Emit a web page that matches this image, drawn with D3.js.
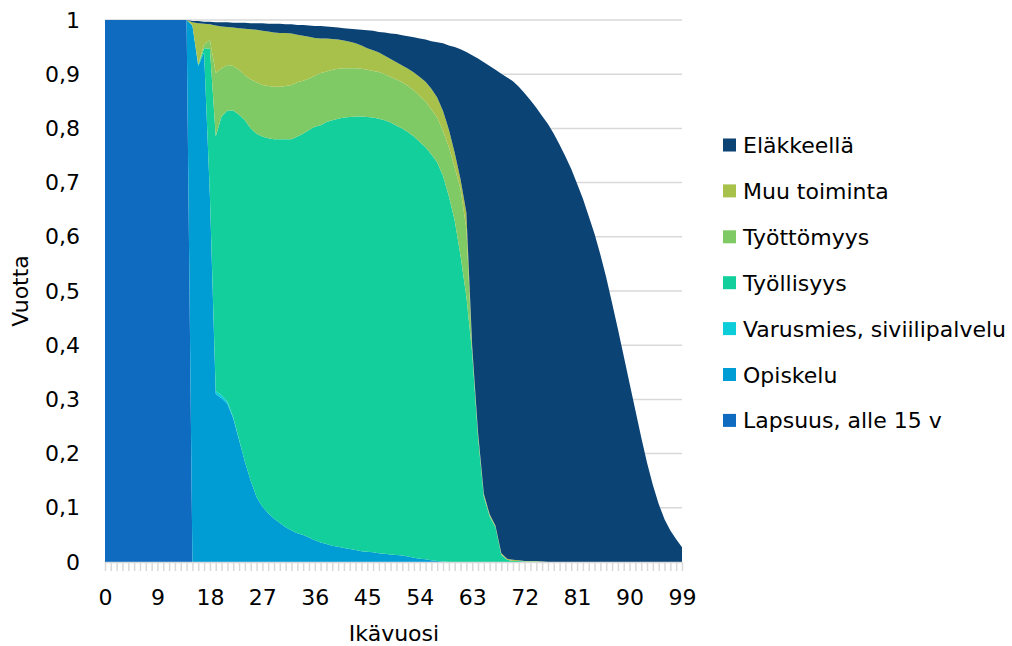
<!DOCTYPE html>
<html>
<head>
<meta charset="utf-8">
<script src="https://cdn.jsdelivr.net/npm/d3@7"></script>
<style>
  body { margin: 0; background: #fff; }
  text { font-family: "DejaVu Sans", sans-serif; fill: #000; }
</style>
</head>
<body>
<div id="container"></div>
<script>
// ages 0..99 (categories)
let ages = [0,1,2,3,4,5,6,7,8,9,10,11,12,13,14,15,16,17,18,19,20,21,22,23,24,25,26,27,28,29,
  30,31,32,33,34,35,36,37,38,39,40,41,42,43,44,45,46,47,48,49,50,51,52,53,54,55,56,57,58,59,
  60,61,62,63,64,65,66,67,68,69,70,71,72,73,74,75,76,77,78,79,80,81,82,83,84,85,86,87,88,89,
  90,91,92,93,94,95,96,97,98,99];

let xTickLabels = [0, 9, 18, 27, 36, 45, 54, 63, 72, 81, 90, 99];
let yTicks = [0, 0.1, 0.2, 0.3, 0.4, 0.5, 0.6, 0.7, 0.8, 0.9, 1];

// series, bottom first (share of a year)
let lapsuus = [1,1,1,1,1,1,1,1,1,1,1,1,1,1,1,0,0,0,0,0,0,0,0,0,0,0,0,0,0,0,
  0,0,0,0,0,0,0,0,0,0,0,0,0,0,0,0,0,0,0,0,0,0,0,0,0,0,0,0,0,0,
  0,0,0,0,0,0,0,0,0,0,0,0,0,0,0,0,0,0,0,0,0,0,0,0,0,0,0,0,0,0,
  0,0,0,0,0,0,0,0,0,0];

let opiskelu = [0,0,0,0,0,0,0,0,0,0,0,0,0,0,0,
  0.990,0.915,0.940,0.675,0.310,0.302,0.292,0.265,0.225,0.185,0.150,0.120,0.102,0.090,0.080,
  0.072,0.064,0.058,0.053,0.050,0.045,0.040,0.036,0.033,0.030,0.028,0.026,0.024,0.022,0.020,
  0.019,0.018,0.016,0.015,0.014,0.013,0.012,0.010,0.008,0.006,0.005,0.003,0.002,0.001,0,
  0,0,0,0,0,0,0,0,0,0,0,0,0,0,0,0,0,0,0,0,0,0,0,0,0,0,0,0,0,0,
  0,0,0,0,0,0,0,0,0,0];

let varusmies = [0,0,0,0,0,0,0,0,0,0,0,0,0,0,0,0,0,0,
  0.001,0.005,0.006,0.004,0.002,0.001,
  0,0,0,0,0,0,0,0,0,0,0,0,0,0,0,0,0,0,0,0,0,0,0,0,0,0,0,0,0,0,0,0,0,0,0,0,0,0,0,0,0,0,0,0,0,0,
  0,0,0,0,0,0,0,0,0,0,0,0,0,0,0,0,0,0,0,0,0,0,0,0,0,0,0,0,0,0,0,0,0,0,0,0];

let tyollisyys = [0,0,0,0,0,0,0,0,0,0,0,0,0,0,0,
  0,0.002,0.008,0.271,0.470,0.514,0.537,0.566,0.599,0.630,0.650,0.670,0.683,0.692,0.700,
  0.708,0.716,0.722,0.732,0.740,0.752,0.763,0.770,0.779,0.785,0.790,0.794,0.797,0.800,0.802,
  0.802,0.802,0.802,0.800,0.797,0.792,0.788,0.783,0.777,0.769,0.760,0.749,0.735,0.711,0.675,
  0.630,0.565,0.490,0.385,0.230,0.120,0.084,0.064,0.013,0.004,0.002,0.002,0.001,0.001,0.001,
  0,0,0,0,0,0,0,0,0,0,0,0,0,0,0,0,0,0,0,0,0,0,0,0,0];

let tyottomyys = [0,0,0,0,0,0,0,0,0,0,0,0,0,0,0,
  0,0.001,0.007,0.016,0.117,0.089,0.084,0.082,0.083,0.083,0.090,0.095,0.095,0.096,0.097,
  0.097,0.098,0.100,0.100,0.098,0.095,0.094,0.096,0.093,0.093,0.092,0.091,0.090,0.089,0.088,
  0.087,0.086,0.086,0.085,0.084,0.085,0.085,0.085,0.085,0.085,0.085,0.083,0.083,0.083,0.090,
  0.098,0.123,0.125,0.007,0.005,0.003,0.002,0.001,0.001,0,0,0,0,0,0,
  0,0,0,0,0,0,0,0,0,0,0,0,0,0,0,0,0,0,0,0,0,0,0,0,0];

let muuToiminta = [0,0,0,0,0,0,0,0,0,0,0,0,0,0,0,
  0.006,0.076,0.038,0.029,0.088,0.077,0.070,0.071,0.077,0.086,0.093,0.097,0.100,0.101,0.100,
  0.099,0.098,0.095,0.088,0.083,0.077,0.070,0.064,0.061,0.057,0.054,0.051,0.049,0.046,0.043,
  0.040,0.038,0.036,0.034,0.033,0.032,0.031,0.032,0.033,0.035,0.036,0.038,0.037,0.037,0.033,
  0.027,0.018,0.030,0.006,0.005,0.003,0.002,0.002,0.002,0.002,0.002,0.001,0.001,0.001,0.001,
  0.001,0,0,0,0,0,0,0,0,0,0,0,0,0,0,0,0,0,0,0,0,0,0,0,0];

let elakkeella = [0,0,0,0,0,0,0,0,0,0,0,0,0,0,0,
  0.002,0.004,0.004,0.005,0.006,0.008,0.009,0.009,0.010,0.011,0.011,0.012,0.014,0.014,0.016,
  0.017,0.016,0.017,0.018,0.020,0.021,0.022,0.023,0.022,0.022,0.022,0.023,0.024,0.026,0.029,
  0.033,0.036,0.038,0.043,0.047,0.052,0.056,0.060,0.065,0.071,0.078,0.088,0.102,0.125,0.155,
  0.195,0.240,0.296,0.537,0.689,0.796,0.827,0.841,0.885,0.888,0.883,0.874,0.863,0.850,0.836,
  0.822,0.808,0.790,0.770,0.748,0.725,0.698,0.670,0.638,0.605,0.567,0.525,0.478,0.430,0.380,
  0.330,0.280,0.230,0.183,0.142,0.107,0.079,0.058,0.042,0.027];

let seriesNames = ["Lapsuus, alle 15 v", "Opiskelu", "Varusmies, siviilipalvelu",
  "Työllisyys", "Työttömyys", "Muu toiminta", "Eläkkeellä"];
let seriesValues = [lapsuus, opiskelu, varusmies, tyollisyys, tyottomyys, muuToiminta, elakkeella];
let seriesColors = ["#0e6bc0", "#009dd5", "#0dcdd9", "#12cf9b", "#7fca64", "#a8c14b", "#0b4375"];

let w = 1012;
let h = 646;
let plotLeft = 105, plotRight = 682, plotTop = 20, plotBottom = 562;
let fontSize = "22px";

let viz = d3.select("#container")
  .append("svg")
    .attr("width", w)
    .attr("height", h)
;

// rows for d3.stack
let rows = ages.map(function(a, i){
  let r = {age: a};
  seriesNames.forEach(function(n, j){ r[n] = seriesValues[j][i]; });
  return r;
});

let xScale = d3.scaleLinear().domain([0, 99]).range([plotLeft, plotRight]);
let yScale = d3.scaleLinear().domain([0, 1]).range([plotBottom, plotTop]);

// gridlines
viz.append("g").selectAll("line")
  .data(yTicks.filter(function(d){ return d > 0; }))
  .enter().append("line")
    .attr("x1", plotLeft)
    .attr("x2", plotRight)
    .attr("y1", function(d){ return yScale(d); })
    .attr("y2", function(d){ return yScale(d); })
    .attr("stroke", "#d9d9d9")
    .attr("stroke-width", 1.5)
;

let stacked = d3.stack().keys(seriesNames)(rows);

let area = d3.area()
  .x(function(d){ return xScale(d.data.age); })
  .y0(function(d){ return yScale(d[0]); })
  .y1(function(d){ return yScale(d[1]); })
;

viz.append("g").selectAll("path")
  .data(stacked)
  .enter().append("path")
    .attr("d", area)
    .attr("fill", function(d, i){ return seriesColors[i]; })
;

// minor ticks on the category axis
let tickAxis = d3.axisBottom(xScale).tickValues(ages).tickSize(9).tickFormat("").tickSizeOuter(0);
let tickGroup = viz.append("g")
  .attr("transform", "translate(0," + plotBottom + ")")
  .call(tickAxis);
tickGroup.selectAll("line").attr("stroke", "#d9d9d9").attr("stroke-width", 1.5);
tickGroup.select(".domain").attr("stroke", "#d9d9d9").attr("stroke-width", 1.5);

// x labels
let xAxis = d3.axisBottom(xScale).tickValues(xTickLabels).tickSize(0).tickPadding(27);
let xAxisGroup = viz.append("g")
  .attr("transform", "translate(0," + plotBottom + ")")
  .call(xAxis);
xAxisGroup.select(".domain").remove();
xAxisGroup.selectAll("text")
  .attr("font-size", fontSize)
  .style("font-family", "'DejaVu Sans', sans-serif")
  .attr("fill", "#000");

// y labels
let yAxis = d3.axisLeft(yScale).tickValues(yTicks).tickSize(0).tickPadding(25)
  .tickFormat(function(d){ return String(d).replace(".", ","); });
let yAxisGroup = viz.append("g")
  .attr("transform", "translate(" + plotLeft + ",0)")
  .call(yAxis);
yAxisGroup.select(".domain").remove();
yAxisGroup.selectAll("text")
  .attr("font-size", fontSize)
  .style("font-family", "'DejaVu Sans', sans-serif")
  .attr("fill", "#000");

// axis titles
viz.append("text")
  .text("Ikävuosi")
  .attr("x", 394)
  .attr("y", 641)
  .attr("text-anchor", "middle")
  .attr("font-size", fontSize)
;
viz.append("text")
  .text("Vuotta")
  .attr("transform", "translate(28,291) rotate(-90)")
  .attr("text-anchor", "middle")
  .attr("font-size", fontSize)
;

// legend, top item = last series
let legendOrder = seriesNames.map(function(n, i){ return i; }).reverse();
let legend = viz.append("g").selectAll("g")
  .data(legendOrder)
  .enter().append("g")
    .attr("transform", function(d, i){ return "translate(723," + (145 + i * 45.9) + ")"; })
;
legend.append("rect")
  .attr("x", 0)
  .attr("y", -6.5)
  .attr("width", 13)
  .attr("height", 13)
  .attr("fill", function(d){ return seriesColors[d]; })
;
legend.append("text")
  .text(function(d){ return seriesNames[d]; })
  .attr("x", 20)
  .attr("y", 8)
  .attr("font-size", fontSize)
;
</script>
</body>
</html>
